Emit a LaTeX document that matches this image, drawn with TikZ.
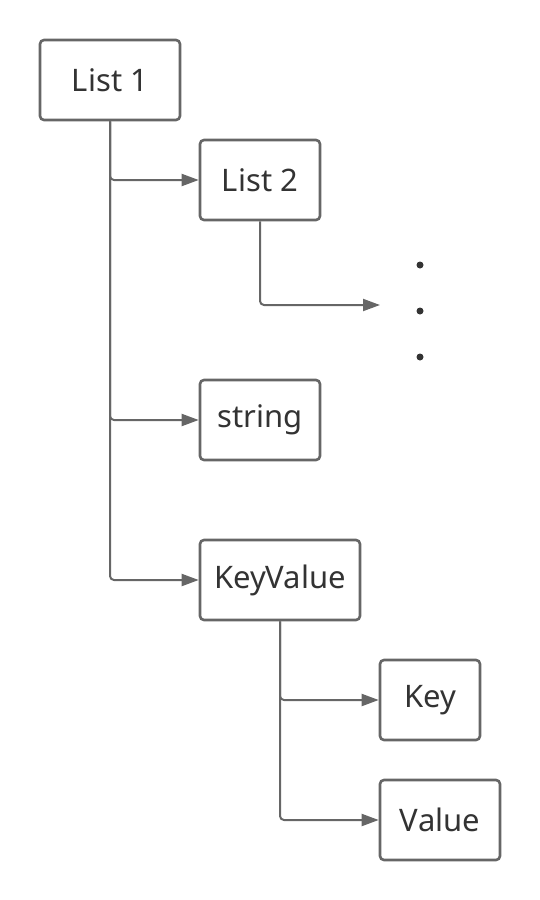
\documentclass[tikz,border=0pt]{standalone}
\usepackage{fontspec}
\setmainfont{Noto Sans}
\usetikzlibrary{arrows.meta}
\definecolor{linegray}{HTML}{666666}
\definecolor{textgray}{HTML}{333333}
\tikzset{
  box/.style={draw=linegray, line width=2.6pt, rounded corners=4pt, fill=white,
    inner sep=0pt, text=textgray, font=\fontsize{31}{35}\selectfont},
  conn/.style={draw=linegray, line width=2pt, rounded corners=4pt,
    -{Triangle[length=17pt,width=12pt]}},
  dotmark/.style={circle, fill=textgray, inner sep=0pt, minimum size=7pt}
}
\begin{document}
\begin{tikzpicture}[x=1pt,y=-1pt]
\useasboundingbox (0,0) rectangle (540,900);
\node[box, minimum width=140pt, minimum height=80pt] (l1) at (110,80) {List 1};
\node[box, minimum width=120pt, minimum height=80pt] (l2) at (260,180) {List 2};
\node[box, minimum width=120pt, minimum height=80pt] (str) at (260,420) {string};
\node[box, minimum width=160pt, minimum height=80pt] (kv) at (280,580) {KeyValue};
\node[box, minimum width=100pt, minimum height=80pt] (key) at (430,700) {Key};
\node[box, minimum width=120pt, minimum height=80pt] (val) at (440,820) {Value};
\coordinate (more) at (380,305);
\node[dotmark] (d1) at (420,265) {};
\node[dotmark] (d2) at (420,311) {};
\node[dotmark] (d3) at (420,357) {};
\draw[conn] (l1.south) |- (l2.west);
\draw[conn] (l1.south) |- (str.west);
\draw[conn] (l1.south) |- (kv.west);
\draw[conn] (l2.south) |- (more);
\draw[conn] (kv.south) |- (key.west);
\draw[conn] (kv.south) |- (val.west);
\end{tikzpicture}
\end{document}
